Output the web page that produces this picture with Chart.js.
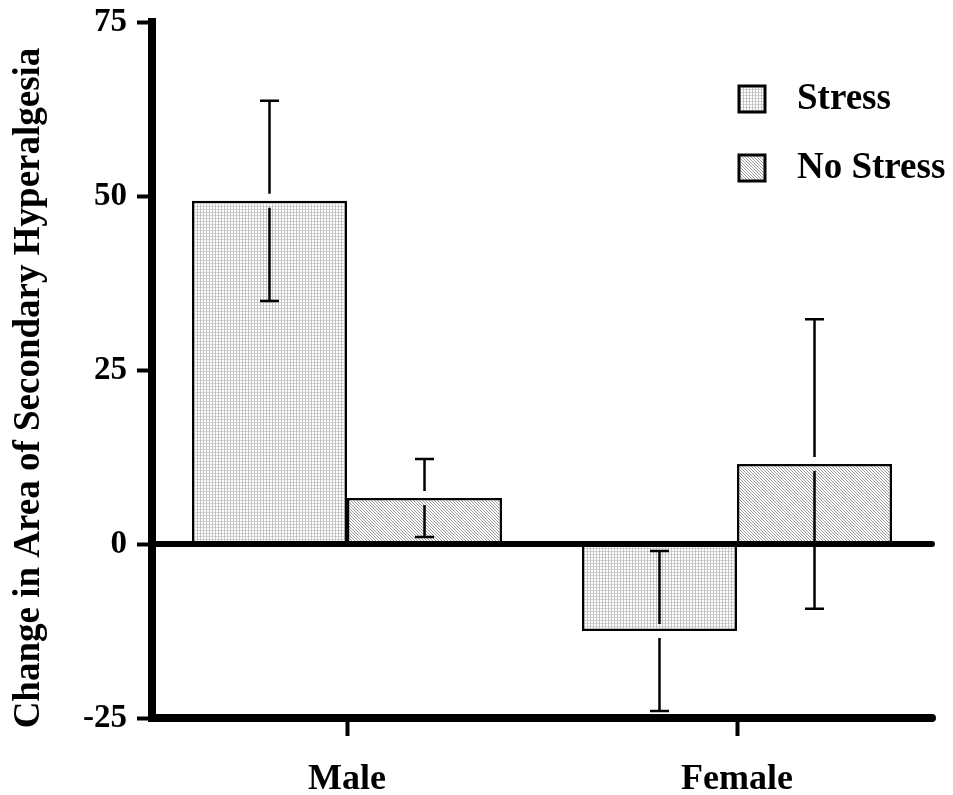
<!DOCTYPE html>
<html><head><meta charset="utf-8">
<script src="https://cdn.jsdelivr.net/npm/chart.js@4.4.0/dist/chart.umd.min.js"></script>
<style>html,body{margin:0;padding:0;background:#fff}#wrap{width:953px;height:795px;position:relative}</style>
</head><body><div id="wrap"><canvas id="c"></canvas></div>
<script>
// ---- data ----
const categories = ['Male', 'Female'];
const seriesNames = ['Stress', 'No Stress'];
const stressValues = [49.3, -12.5];
const stressErrors = [14.4, 11.5];
const noStressValues = [6.6, 11.5];
const noStressErrors = [5.6, 20.8];
const yTickValues = [-25, 0, 25, 50, 75];
const yTitle = 'Change in Area of Secondary Hyperalgesia';

const FONT = "'Liberation Serif', 'Times New Roman', serif";

function makePattern(kind) {
  const t = document.createElement('canvas');
  t.width = 3; t.height = 3;
  const g = t.getContext('2d');
  g.fillStyle = '#ffffff'; g.fillRect(0, 0, 3, 3);
  if (kind === 'dots') {
    g.fillStyle = '#d2d2d2';
    g.fillRect(0, 2, 3, 1);
    g.fillStyle = '#c4c4c4';
    g.fillRect(2, 0, 1, 3);
  } else {
    g.fillStyle = '#9a9a9a';
    g.fillRect(0, 0, 1, 1); g.fillRect(1, 1, 1, 1); g.fillRect(2, 2, 1, 1);
  }
  return document.getElementById('c').getContext('2d').createPattern(t, 'repeat');
}
const stressFill = makePattern('dots');
const noStressFill = makePattern('diag');

const zeroLine = {
  id: 'zeroLine',
  beforeDatasetsDraw(chart) {
    const ctx = chart.ctx, a = chart.chartArea, y = chart.scales.y;
    const y0 = y.getPixelForValue(0);
    ctx.save();
    ctx.strokeStyle = '#000'; ctx.lineWidth = 6; ctx.lineCap = 'round';
    ctx.beginPath(); ctx.moveTo(a.left, y0); ctx.lineTo(a.right, y0); ctx.stroke();
    // rounded ends of the axis lines
    ctx.lineWidth = 8;
    ctx.beginPath(); ctx.moveTo(a.right - 2, a.bottom); ctx.lineTo(a.right, a.bottom); ctx.stroke();
    ctx.beginPath(); ctx.moveTo(a.left, a.top + 2); ctx.lineTo(a.left, a.top); ctx.stroke();
    ctx.restore();
  }
};

const errorBars = {
  id: 'errorBars',
  afterDatasetsDraw(chart) {
    const ctx = chart.ctx, y = chart.scales.y;
    const gap = 7, cap = 9.5;
    ctx.save();
    ctx.strokeStyle = '#000'; ctx.lineWidth = 2.5; ctx.lineCap = 'butt';
    chart.data.datasets.forEach((ds, di) => {
      const meta = chart.getDatasetMeta(di);
      meta.data.forEach((bar, i) => {
        const v = ds.data[i], e = ds.errors[i];
        const x = bar.x;
        const yHi = y.getPixelForValue(v + e);
        const yLo = y.getPixelForValue(v - e);
        const yEdge = y.getPixelForValue(v);
        const segs = [];
        if (yEdge - gap > yHi) segs.push([yHi, yEdge - gap]);
        if (yEdge + gap < yLo) segs.push([yEdge + gap, yLo]);
        ctx.beginPath();
        segs.forEach(s => { ctx.moveTo(x, s[0]); ctx.lineTo(x, s[1]); });
        ctx.moveTo(x - cap, yHi); ctx.lineTo(x + cap, yHi);
        ctx.moveTo(x - cap, yLo); ctx.lineTo(x + cap, yLo);
        ctx.stroke();
      });
    });
    ctx.restore();
  }
};

const customLegend = {
  id: 'customLegend',
  afterDraw(chart) {
    const ctx = chart.ctx, a = chart.chartArea;
    ctx.save();
    const bx = a.right - 193, size = 26;
    const rows = [a.top + 64, a.top + 133];
    chart.data.datasets.forEach((ds, i) => {
      const by = rows[i];
      ctx.fillStyle = ds.backgroundColor;
      ctx.fillRect(bx, by, size, size);
      ctx.strokeStyle = '#000'; ctx.lineWidth = 3;
      ctx.strokeRect(bx, by, size, size);
      ctx.fillStyle = '#000';
      ctx.font = 'bold 37px ' + FONT;
      ctx.textAlign = 'left'; ctx.textBaseline = 'alphabetic';
      ctx.fillText(ds.label, bx + 58, by + 23);
    });
    ctx.restore();
  }
};

const yTitlePlugin = {
  id: 'yTitlePlugin',
  afterDraw(chart) {
    const ctx = chart.ctx, a = chart.chartArea;
    ctx.save();
    ctx.translate(29, (a.top + a.bottom) / 2 + 18);
    ctx.rotate(-Math.PI / 2);
    ctx.fillStyle = '#000';
    ctx.font = 'bold 37px ' + FONT;
    ctx.textAlign = 'center'; ctx.textBaseline = 'middle';
    ctx.fillText(yTitle, 0, 0);
    ctx.restore();
  }
};

new Chart(document.getElementById('c'), {
  type: 'bar',
  data: {
    labels: categories,
    datasets: [
      { label: seriesNames[0], data: stressValues, errors: stressErrors,
        backgroundColor: stressFill, borderColor: '#000', borderWidth: 2.5, borderSkipped: false },
      { label: seriesNames[1], data: noStressValues, errors: noStressErrors,
        backgroundColor: noStressFill, borderColor: '#000', borderWidth: 2.5, borderSkipped: false }
    ]
  },
  options: {
    responsive: true,
    maintainAspectRatio: false,
    animation: false,
    events: [],
    categoryPercentage: 0.795,
    barPercentage: 1.0,
    layout: { padding: { top: 22, right: 21, bottom: 0, left: 0 } },
    plugins: { legend: { display: false }, tooltip: { enabled: false }, title: { display: false } },
    scales: {
      x: {
        grid: { drawOnChartArea: false, offset: false, tickLength: 18, tickWidth: 4, tickColor: '#000' },
        border: { display: true, width: 8, color: '#000' },
        ticks: { color: '#000', padding: 22, font: { family: FONT, size: 36, weight: 'bold' } },
        afterFit(s) { s.height = 77; s.paddingLeft = 0; s.paddingRight = 0; }
      },
      y: {
        min: -25, max: 75,
        afterBuildTicks(s) { s.ticks = yTickValues.map(v => ({ value: v })); },
        grid: {
          drawOnChartArea: false,
          tickLength: 15, tickWidth: 4, tickColor: '#000'
        },
        border: { display: true, width: 8, color: '#000' },
        ticks: { color: '#000', padding: 10, font: { family: FONT, size: 33, weight: 'bold' } },
        afterFit(s) { s.width = 152; s.paddingTop = 0; s.paddingBottom = 0; }
      }
    }
  },
  plugins: [zeroLine, errorBars, customLegend, yTitlePlugin]
});
</script>
</body></html>
